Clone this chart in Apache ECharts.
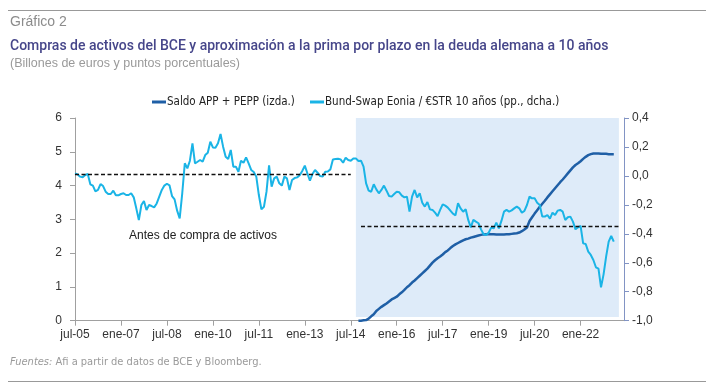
<!DOCTYPE html>
<html><head><meta charset="utf-8">
<script src="https://cdn.jsdelivr.net/npm/echarts@6/dist/echarts.min.js"></script>
<style>html,body{margin:0;padding:0;background:#fff}#c{width:709px;height:388px}</style>
</head><body><div id="c"></div>
<script>
// Monthly categories jul-05 .. jun-23
const monthNames = ['ene','feb','mar','abr','may','jun','jul','ago','sep','oct','nov','dic'];
const categories = [];
for (let i = 0; i < 216; i++) {
  const mi = (6 + i) % 12, yr = 2005 + Math.floor((6 + i) / 12);
  categories.push(monthNames[mi] + '-' + String(yr % 100).padStart(2, '0'));
}
// Bund-Swap Eonia / €STR 10 años (pp., right axis), jul-05 onwards
const bundSwap = [
 0.018,0.011,-0.005,-0.010,0.006,0.013,-0.058,-0.067,-0.107,-0.097,-0.056,-0.070,
 -0.109,-0.125,-0.125,-0.102,-0.134,-0.134,-0.125,-0.120,-0.132,-0.132,-0.120,-0.148,
 -0.224,-0.305,-0.201,-0.173,-0.236,-0.201,-0.208,-0.217,-0.190,-0.143,-0.097,-0.067,
 -0.054,-0.065,-0.139,-0.162,-0.240,-0.293,-0.120,0.087,0.052,0.105,0.225,0.087,
 0.098,0.110,0.098,0.144,0.160,0.236,0.197,0.195,0.225,0.289,0.202,0.133,
 0.117,0.179,0.064,0.064,0.029,0.105,0.091,0.128,0.087,0.041,0.027,-0.005,
 -0.132,-0.231,-0.213,-0.109,0.073,-0.074,-0.017,-0.005,-0.051,-0.067,-0.005,-0.017,
 -0.097,-0.028,-0.015,-0.010,0.004,0.034,0.071,0.018,-0.033,0.013,0.041,0.022,
 -0.001,-0.005,0.029,0.031,0.045,0.114,0.117,0.119,0.114,0.091,0.126,0.110,
 0.105,0.121,0.121,0.103,0.105,0.064,-0.051,-0.102,-0.109,-0.058,-0.093,-0.120,
 -0.097,-0.067,-0.102,-0.139,-0.143,-0.125,-0.109,-0.113,-0.136,-0.148,-0.143,-0.247,
 -0.143,-0.097,-0.148,-0.120,-0.185,-0.212,-0.180,-0.231,-0.235,-0.254,-0.277,-0.235,
 -0.196,-0.205,-0.219,-0.240,-0.261,-0.272,-0.189,-0.224,-0.247,-0.231,-0.304,-0.355,
 -0.304,-0.316,-0.327,-0.369,-0.403,-0.408,-0.392,-0.357,-0.362,-0.323,-0.362,-0.311,
 -0.247,-0.235,-0.247,-0.238,-0.224,-0.212,-0.224,-0.254,-0.242,-0.201,-0.143,-0.155,
 -0.155,-0.185,-0.201,-0.281,-0.281,-0.270,-0.295,-0.254,-0.270,-0.240,-0.235,-0.247,
 -0.304,-0.286,-0.281,-0.316,-0.369,-0.355,-0.346,-0.466,-0.470,-0.523,-0.546,-0.581,
 -0.631,-0.640,-0.770,-0.680,-0.558,-0.454,-0.415,-0.454
];
// Saldo APP + PEPP (billones de euros, left axis), from oct-14 onwards
const appStart = 'oct-14';
const appPepp = [
 0.00,0.00,0.01,0.02,0.06,0.13,0.19,0.29,0.35,0.41,0.46,0.51,
 0.57,0.63,0.67,0.71,0.78,0.84,0.91,0.99,1.05,1.13,1.19,1.26,
 1.33,1.40,1.47,1.54,1.63,1.72,1.79,1.85,1.90,1.96,2.03,2.08,
 2.15,2.21,2.26,2.30,2.34,2.38,2.41,2.43,2.46,2.48,2.50,2.52,
 2.54,2.555,2.56,2.565,2.56,2.56,2.555,2.555,2.555,2.555,2.56,2.56,
 2.57,2.58,2.59,2.61,2.65,2.70,2.76,2.95,3.06,3.17,3.27,3.37,
 3.46,3.55,3.65,3.74,3.83,3.92,4.01,4.10,4.18,4.27,4.36,4.45,
 4.54,4.61,4.66,4.72,4.79,4.85,4.90,4.93,4.95,4.95,4.95,4.94,
 4.94,4.94,4.93,4.93,4.93
];
// Average levels (right axis) and periods
const meanBefore = 0.01, meanBeforeFrom = 'jul-05', meanBeforeTo = 'jul-14';
const meanAfter = -0.35, meanAfterFrom = 'nov-14', meanAfterTo = 'abr-23';
const shadeFrom = 'sep-14', shadeTo = 'abr-23';
const leftTicks = {min: 0, max: 6, interval: 1};
const rightTicks = {min: -1, max: 0.4, interval: 0.2};

const s0 = categories.indexOf(appStart);
const appData = appPepp.map((v, i) => [categories[s0 + i], v]);

const narrow = "'Liberation Sans Narrow','DejaVu Sans Condensed',sans-serif";
const reg = "'Liberation Sans',Arial,sans-serif";
const chart = echarts.init(document.getElementById('c'), null, {renderer: 'canvas'});
chart.setOption({
  animation: false,
  grid: {left: 75, right: 85, top: 118, bottom: 67.3, containLabel: false},
  legend: [
    {data: ['Saldo APP + PEPP (izda.)'], left: 147, top: 91, icon: 'rect', itemWidth: 14, itemHeight: 3, itemGap: 0,
     textStyle: {fontFamily: narrow, fontSize: 11.5, color: '#222', padding: [0, 0, 0, -4]}},
    {data: ['Bund-Swap Eonia / €STR 10 años (pp., dcha.)'], left: 305, top: 91, icon: 'rect', itemWidth: 14, itemHeight: 3,
     textStyle: {fontFamily: narrow, fontSize: 11.5, color: '#222', padding: [0, 0, 0, -4]}}
  ],
  xAxis: {
    type: 'category', data: categories, boundaryGap: false,
    axisLine: {lineStyle: {color: '#a0a0a0', width: 1}},
    axisTick: {interval: 17, length: 5, lineStyle: {color: '#a0a0a0'}},
    axisLabel: {interval: 17, margin: 8, fontFamily: reg, fontSize: 12, color: '#333'},
    splitLine: {show: false}
  },
  yAxis: [
    {type: 'value', min: leftTicks.min, max: leftTicks.max, interval: leftTicks.interval, position: 'left',
     axisLine: {show: true, lineStyle: {color: '#a0a0a0'}},
     axisTick: {show: true, length: 5, lineStyle: {color: '#a0a0a0'}},
     axisLabel: {margin: 13, fontFamily: reg, fontSize: 12, color: '#333'},
     splitLine: {show: false}},
    {type: 'value', min: rightTicks.min, max: rightTicks.max, interval: rightTicks.interval, position: 'right',
     axisLine: {show: true, lineStyle: {color: '#8294c4'}},
     axisTick: {show: true, length: 5, lineStyle: {color: '#8294c4'}},
     axisLabel: {margin: 8, fontFamily: reg, fontSize: 12, color: '#333',
       formatter: v => (Math.abs(v) < 1e-9 ? 0 : v).toFixed(1).replace('.', ',')},
     splitLine: {show: false}}
  ],
  series: [
    {name: 'Saldo APP + PEPP (izda.)', type: 'line', yAxisIndex: 0, data: appData,
     showSymbol: false, symbol: 'none', lineStyle: {color: '#1f5fa6', width: 2.5}, itemStyle: {color: '#1f5fa6'},
     markArea: {silent: true, itemStyle: {color: '#deebf9'},
       data: [[{xAxis: shadeFrom, yAxis: 0.11}, {xAxis: shadeTo, yAxis: 6}]]}},
    {name: 'Bund-Swap Eonia / €STR 10 años (pp., dcha.)', type: 'line', yAxisIndex: 1, data: bundSwap,
     showSymbol: false, symbol: 'none', lineStyle: {color: '#1ab4e6', width: 2}, itemStyle: {color: '#1ab4e6'},
     markLine: {silent: true, symbol: 'none', label: {show: false},
       lineStyle: {color: '#111', type: [4, 2.5], width: 1.3},
       data: [
         [{coord: [meanBeforeFrom, meanBefore]}, {coord: [meanBeforeTo, meanBefore]}],
         [{coord: [meanAfterFrom, meanAfter]}, {coord: [meanAfterTo, meanAfter]}]
       ]}}
  ],
  graphic: [
    {type: 'line', shape: {x1: 8, y1: 10.5, x2: 706, y2: 10.5}, style: {stroke: '#999', lineWidth: 1}},
    {type: 'line', shape: {x1: 8, y1: 381.5, x2: 706, y2: 381.5}, style: {stroke: '#999', lineWidth: 1}},
    {type: 'text', x: 10, y: 22, style: {text: 'Gráfico 2', font: "14px 'Liberation Sans',Arial,sans-serif", fill: '#8c8c8c', textVerticalAlign: 'middle'}},
    {type: 'text', x: 10, y: 46.5, style: {text: 'Compras de activos del BCE y aproximación a la prima por plazo en la deuda alemana a 10 años',
      font: "500 14px Roboto,'Liberation Sans',sans-serif", fill: '#46468a', textVerticalAlign: 'middle'}},
    {type: 'text', x: 10, y: 64, style: {text: '(Billones de euros y puntos porcentuales)', font: "12.5px 'Liberation Sans',Arial,sans-serif", fill: '#9a9a9a', textVerticalAlign: 'middle'}},
    {type: 'text', x: 10, y: 362, style: {text: '{i|Fuentes:} Afi a partir de datos de BCE y Bloomberg.',
      font: "11px " + narrow, fill: '#9a9a9a', textVerticalAlign: 'middle',
      rich: {i: {fontStyle: 'italic', fontFamily: narrow, fontSize: 11, fill: '#9a9a9a', color: '#9a9a9a'}}}},
    {type: 'text', x: 203, y: 236, style: {text: 'Antes de compra de activos', font: "12px " + reg, fill: '#222', textAlign: 'center', textVerticalAlign: 'middle'}},
    {type: 'text', x: 474.5, y: 135.5, style: {text: 'Desde inicio de compra de activos', font: "12px " + reg, fill: '#222', textAlign: 'center', textVerticalAlign: 'middle'}}
  ]
});
</script></body></html>
